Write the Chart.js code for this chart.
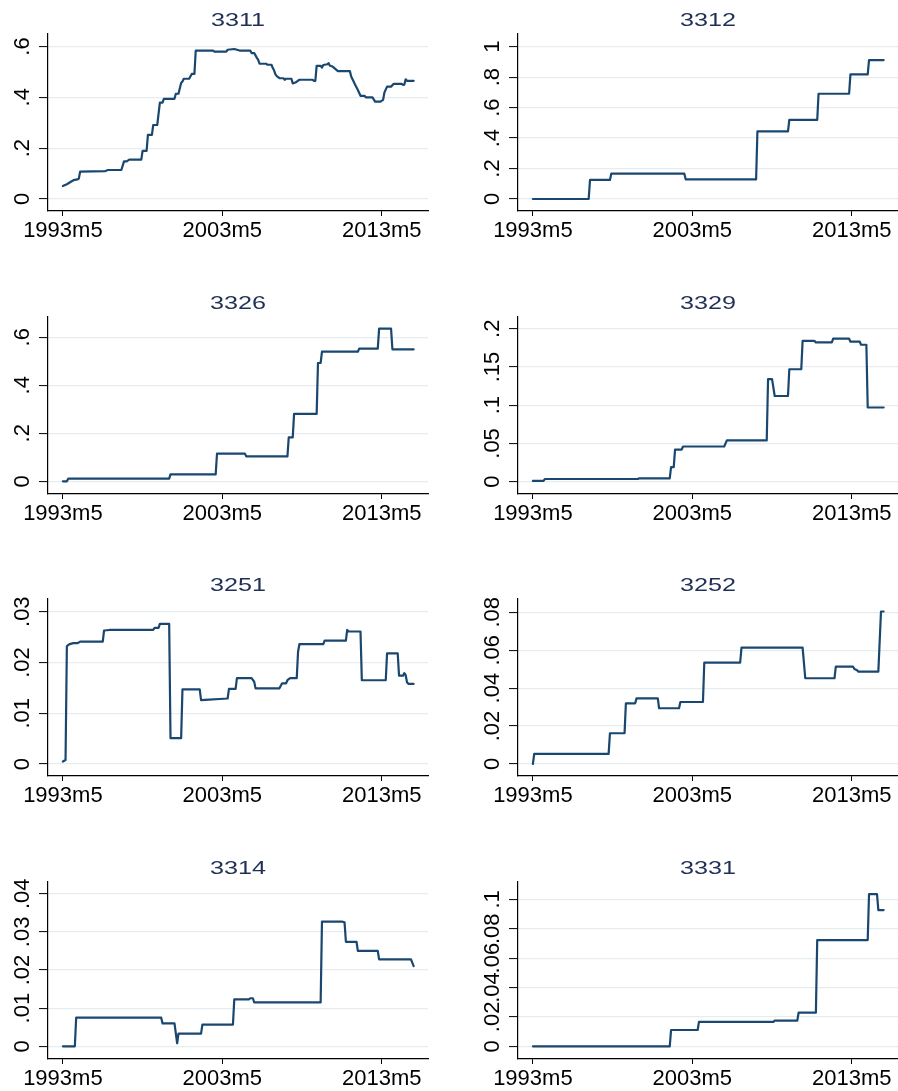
<!DOCTYPE html>
<html>
<head>
<meta charset="utf-8">
<script src="https://cdn.jsdelivr.net/npm/chart.js@4.4.1/dist/chart.umd.min.js"></script>
<style>
  html, body { margin: 0; padding: 0; background: #fff; width: 898px; height: 1091px; overflow: hidden; }
  canvas { position: absolute; }
</style>
</head>
<body>
<script>
// Monthly series, months counted from 1993m5 (0 = 1993m5)
const xTickLabels = ['1993m5', '2003m5', '2013m5'];

const m3311 = [0, 3, 6, 8, 11, 12, 13, 32, 34, 44, 46, 48, 50, 59, 60, 63, 64, 67, 68, 71, 73, 75, 76, 84, 85, 87, 89, 90, 91, 95, 97, 99, 100, 113, 114, 123, 124, 129, 133, 141, 142, 144, 146, 147, 148, 153, 154, 157, 158, 159, 160, 161, 163, 166, 167, 168, 172, 173, 175, 176, 178, 188, 189, 190, 191, 194, 195, 196, 199, 200, 201, 203, 207, 216, 217, 219, 220, 222, 224, 227, 228, 233, 235, 239, 241, 242, 244, 247, 249, 255, 256, 257, 258, 259, 264];
const v3311 = [.051, .058, .068, .074, .077, .080, .108, .110, .114, .114, .148, .148, .155, .155, .189, .189, .252, .252, .291, .291, .379, .379, .394, .394, .414, .414, .456, .462, .473, .473, .492, .492, .584, .584, .580, .580, .587, .590, .584, .584, .574, .574, .555, .547, .532, .532, .528, .528, .515, .505, .490, .483, .475, .475, .469, .473, .473, .455, .458, .462, .469, .469, .465, .465, .524, .524, .517, .527, .530, .534, .524, .521, .503, .503, .482, .460, .449, .429, .406, .406, .400, .400, .383, .383, .390, .419, .442, .442, .453, .453, .449, .450, .471, .465, .465];
const y3311 = ['0', '.2', '.4', '.6'];

const m3312 = [0, 42, 43, 58, 59, 114, 115, 168, 169, 192, 193, 214, 215, 238, 239, 252, 253, 264];
const v3312 = [0, 0, .125, .125, .166, .166, .129, .129, .444, .444, .519, .519, .691, .691, .818, .818, .912, .912];
const y3312 = ['0', '.2', '.4', '.6', '.8', '1'];

const m3326 = [0, 3, 4, 80, 81, 115, 116, 137, 138, 169, 170, 173, 174, 191, 192, 194, 195, 222, 223, 237, 238, 247, 248, 264];
const v3326 = [0, 0, .011, .011, .029, .029, .115, .115, .104, .104, .183, .183, .281, .281, .493, .493, .540, .540, .553, .553, .636, .636, .550, .550];
const y3326 = ['0', '.2', '.4', '.6'];

const m3329 = [0, 8, 9, 79, 80, 103, 104, 106, 107, 112, 113, 144, 146, 176, 177, 180, 182, 192, 193, 202, 203, 212, 213, 225, 226, 238, 239, 246, 247, 251, 252, 264];
const v3329 = [.001, .001, .0035, .0035, .0044, .0044, .019, .019, .042, .042, .046, .046, .054, .054, .134, .134, .112, .112, .147, .147, .184, .184, .182, .182, .187, .187, .183, .183, .179, .179, .097, .097];
const y3329 = ['0', '.05', '.1', '.15', '.2'];

const m3251 = [0, 2, 3, 5, 8, 11, 13, 30, 31, 35, 68, 69, 72, 73, 80, 81, 89, 90, 103, 104, 110, 118, 124, 125, 130, 131, 142, 144, 145, 163, 165, 168, 169, 171, 176, 177, 178, 196, 197, 213, 214, 215, 224, 225, 243, 244, 252, 253, 256, 257, 258, 259, 260, 264];
const v3251 = [.0005, .0008, .0232, .0236, .0238, .0238, .0241, .0241, .0263, .0264, .0264, .0268, .0268, .0276, .0276, .0051, .0051, .0147, .0147, .0126, .0127, .0128, .0129, .0148, .0148, .0169, .0169, .0162, .0149, .0149, .0159, .0159, .0165, .0169, .0169, .0221, .0236, .0236, .0243, .0243, .0264, .0261, .0261, .0165, .0165, .0218, .0218, .0174, .0174, .0179, .0175, .0161, .0158, .0158];
const y3251 = ['0', '.01', '.02', '.03'];

const m3252 = [0, 1, 57, 58, 69, 70, 77, 78, 94, 95, 110, 111, 128, 129, 156, 157, 203, 205, 227, 228, 241, 242, 244, 245, 260, 262, 264];
const v3252 = [0, .0053, .0053, .0162, .0162, .032, .032, .0346, .0346, .0294, .0294, .0327, .0327, .0534, .0534, .0614, .0614, .0452, .0452, .0513, .0513, .0501, .0494, .0487, .0487, .0804, .0804];
const y3252 = ['0', '.02', '.04', '.06', '.08'];

const m3314 = [0, 9, 10, 74, 75, 84, 86, 87, 104, 105, 128, 129, 140, 141, 143, 144, 194, 195, 210, 212, 213, 221, 222, 237, 238, 262, 264];
const v3314 = [0, 0, .0075, .0075, .006, .006, .0008, .0033, .0033, .0057, .0057, .0123, .0123, .0126, .0126, .0115, .0115, .0327, .0327, .0325, .0274, .0274, .025, .025, .0228, .0228, .021];
const y3314 = ['0', '.01', '.02', '.03', '.04'];

const m3331 = [0, 103, 104, 124, 125, 181, 182, 199, 200, 213, 214, 252, 253, 259, 260, 264];
const v3331 = [0, 0, .0111, .0111, .0166, .0166, .0175, .0175, .0229, .0229, .0723, .0723, .1036, .1036, .0927, .0927];
const y3331 = ['0', '.02', '.04', '.06', '.08', '.1'];

// Look and layout
const FONT = "'Liberation Sans', Arial, Helvetica, sans-serif";
const LINE_COLOR = '#1a476f';
const TITLE_COLOR = '#1f2f55';
const GRID_COLOR = '#e5edf0';
const Y_FONT_SIZE = 22;
const X_FONT_SIZE = 22;
const Y_TICK_LEN = 9;
const Y_LABEL_OFFSET = 25.5;   // axis line to centre of rotated labels
const X_MIN = 388.8, X_MAX = 674.8;   // Stata-style %tm month numbers

const ROW_TOP = [0, 283, 565, 848];
const COL_LEFT = [0, 470];
const COL_WIDTH = [449, 428];

// "1993m5" -> months since 1960m1
function parseMonth(s) {
  const [y, m] = s.split('m').map(Number);
  return (y - 1960) * 12 + (m - 1);
}
const BASE = parseMonth(xTickLabels[0]);
const xTickValues = xTickLabels.map(parseMonth);

const panels = [
  { title: '3311', months: m3311, values: v3311, yLabels: y3311, yMin: -0.0472, yMax: 0.649, row: 0, col: 0 },
  { title: '3312', months: m3312, values: v3312, yLabels: y3312, yMin: -0.0788, yMax: 1.0834, row: 0, col: 1 },
  { title: '3326', months: m3326, values: v3326, yLabels: y3326, yMin: -0.0529, yMax: 0.6846, row: 1, col: 0 },
  { title: '3329', months: m3329, values: v3329, yLabels: y3329, yMin: -0.0161, yMax: 0.2153, row: 1, col: 1 },
  { title: '3251', months: m3251, values: v3251, yLabels: y3251, yMin: -0.00236, yMax: 0.0325, row: 2, col: 0 },
  { title: '3252', months: m3252, values: v3252, yLabels: y3252, yMin: -0.00633, yMax: 0.0870, row: 2, col: 1 },
  { title: '3314', months: m3314, values: v3314, yLabels: y3314, yMin: -0.00333, yMax: 0.04307, row: 3, col: 0 },
  { title: '3331', months: m3331, values: v3331, yLabels: y3331, yMin: -0.00864, yMax: 0.1118, row: 3, col: 1 }
];

// Panel heading, drawn wide like the Stata combined-graph titles
const panelTitle = {
  id: 'panelTitle',
  afterDraw(chart, args, opts) {
    const { ctx, chartArea } = chart;
    ctx.save();
    ctx.font = `${opts.size}px ${FONT}`;
    ctx.fillStyle = opts.color;
    ctx.textAlign = 'center';
    ctx.textBaseline = 'alphabetic';
    ctx.translate((chartArea.left + chartArea.right) / 2, opts.baseline);
    ctx.scale(opts.stretch, 1);
    ctx.fillText(opts.text, 0, 0);
    ctx.restore();
  }
};

const measureCtx = document.createElement('canvas').getContext('2d');
function yLabelPadding(labels) {
  measureCtx.font = `normal ${Y_FONT_SIZE}px ${FONT}`;
  const widest = Math.max(...labels.map(l => measureCtx.measureText(l).width));
  return Y_LABEL_OFFSET - Y_TICK_LEN - widest / 2;
}

panels.forEach(p => {
  const canvas = document.createElement('canvas');
  const top = ROW_TOP[p.row];
  const height = Math.min(283, 1091 - top);
  const width = COL_WIDTH[p.col];
  canvas.width = width;
  canvas.height = height;
  canvas.style.left = COL_LEFT[p.col] + 'px';
  canvas.style.top = top + 'px';
  canvas.style.width = width + 'px';
  canvas.style.height = height + 'px';
  document.body.appendChild(canvas);

  const points = p.months.map((m, i) => ({ x: BASE + m, y: p.values[i] }));
  const yValues = p.yLabels.map(parseFloat);

  new Chart(canvas, {
    type: 'line',
    data: {
      datasets: [{
        data: points,
        borderColor: LINE_COLOR,
        borderWidth: 2.2,
        borderJoinStyle: 'round',
        borderCapStyle: 'round',
        pointRadius: 0,
        fill: false,
        tension: 0
      }]
    },
    options: {
      responsive: false,
      animation: false,
      devicePixelRatio: 1,
      layout: { padding: { top: 34, right: width - 428, bottom: 0, left: 0 } },
      plugins: {
        legend: { display: false },
        tooltip: { enabled: false },
        panelTitle: { text: p.title, size: 18, stretch: 1.4, baseline: 25.5, color: TITLE_COLOR }
      },
      scales: {
        x: {
          type: 'linear',
          min: X_MIN,
          max: X_MAX,
          afterBuildTicks: s => { s.ticks = xTickValues.map(v => ({ value: v })); },
          afterFit: s => { s.height = height - 211; },
          ticks: {
            autoSkip: false,
            maxRotation: 0,
            minRotation: 0,
            padding: 2,
            color: '#000',
            font: { family: FONT, size: X_FONT_SIZE },
            callback: (v, i) => xTickLabels[i]
          },
          grid: { drawOnChartArea: false, drawTicks: true, tickLength: 5, tickColor: '#000', tickWidth: 1 },
          border: { display: true, color: '#000', width: 1.2 }
        },
        y: {
          type: 'linear',
          min: p.yMin,
          max: p.yMax,
          afterBuildTicks: s => { s.ticks = yValues.map(v => ({ value: v })); },
          afterFit: s => { s.width = 48; },
          ticks: {
            autoSkip: false,
            minRotation: 90,
            maxRotation: 90,
            crossAlign: 'center',
            padding: yLabelPadding(p.yLabels),
            color: '#000',
            font: { family: FONT, size: Y_FONT_SIZE },
            callback: (v, i) => p.yLabels[i]
          },
          grid: { color: GRID_COLOR, lineWidth: 1.2, drawTicks: true, tickLength: Y_TICK_LEN, tickColor: '#000', tickWidth: 1 },
          border: { display: true, color: '#000', width: 1.2 }
        }
      }
    },
    plugins: [panelTitle]
  });
});
</script>
</body>
</html>
